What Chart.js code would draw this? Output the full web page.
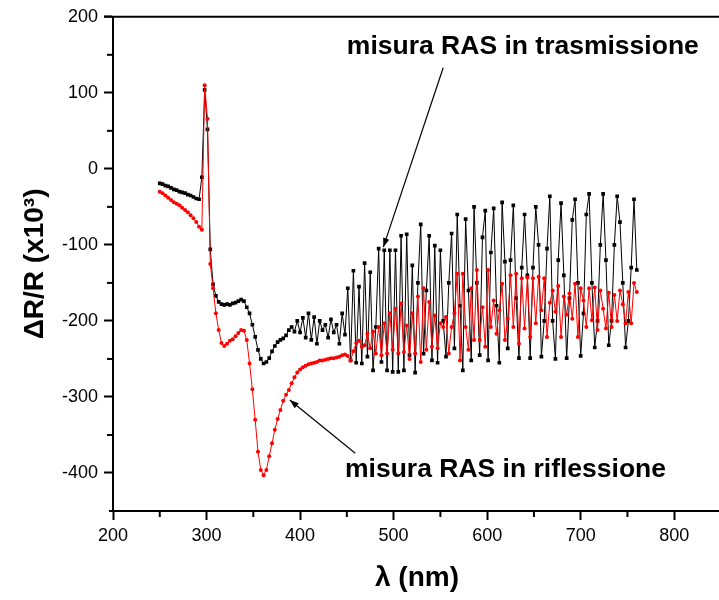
<!DOCTYPE html>
<html>
<head>
<meta charset="utf-8">
<script src="https://cdn.jsdelivr.net/npm/chart.js@4.4.1/dist/chart.umd.min.js"></script>
<style>
  html, body { margin: 0; padding: 0; background: #fff; overflow: hidden; }
  #wrap { position: relative; width: 730px; height: 600px; }
</style>
</head>
<body>
<div id="wrap"><canvas id="c"></canvas></div>
<script>
// Wavelength grid (nm)
const wavelengths = [
  250,253,256,259,262,265,268,271,274,277,
  280,283,286,289,292,295,298,301,304,307,
  310,313,316,319,322,325,328,331,334,337,
  340,343,346,349,352,355,358,361,364,367,
  370,373,376,379,382,385,388,391,394,397,
  400,403,406,409,412,415,418,421,424,427,
  430,433,436,439,442,445,448,451,454,457,
  460,463,466,469,472,475,478,481,484,487,
  490,493,496,499,502,505,508,511,514,517,
  520,523,526,529,532,535,538,541,544,547,
  550,553,556,559,562,565,568,571,574,577,
  580,583,586,589,592,595,598,601,604,607,
  610,613,616,619,622,625,628,631,634,637,
  640,643,646,649,652,655,658,661,664,667,
  670,673,676,679,682,685,688,691,694,697,
  700,703,706,709,712,715,718,721,724,727,
  730,733,736,739,742,745,748,751,754,757,
  760
];

// ΔR/R (x10^3), RAS measured in transmission
const rasTrasmissione = [
  -19,-20,-22,-23,-25,-27,-28,-30,-31,-32,
  -34,-35,-37,-39,-40,-11,104,52,-106,-152,
  -167,-175,-178,-179,-178,-179,-177,-176,-174,-172,
  -174,-182,-190,-205,-221,-238,-250,-256,-254,-249,
  -240,-233,-228,-225,-223,-219,-212,-208,-214,-200,
  -215,-196,-222,-190,-225,-195,-230,-200,-212,-205,
  -222,-198,-215,-205,-230,-190,-218,-157,-252,-134,
  -255,-155,-256,-124,-247,-136,-265,-208,-105,-254,
  -107,-265,-107,-267,-107,-267,-88,-265,-86,-245,
  -127,-268,-150,-73,-243,-160,-88,-252,-101,-255,
  -107,-200,-247,-150,-85,-236,-60,-180,-265,-66,
  -160,-252,-50,-150,-245,-90,-55,-252,-110,-52,
  -180,-255,-44,-122,-236,-120,-48,-170,-249,-130,
  -60,-140,-249,-130,-50,-100,-247,-200,-105,-36,
  -200,-250,-120,-45,-140,-249,-170,-67,-40,-150,
  -246,-190,-60,-33,-150,-235,-200,-100,-33,-120,
  -232,-200,-100,-36,-70,-150,-235,-200,-130,-40,
  -133
];

// ΔR/R (x10^3), RAS measured in reflection
const rasRiflessione = [
  -30,-32,-35,-38,-41,-44,-46,-48,-51,-54,
  -57,-61,-65,-70,-76,-80,110,66,-125,-157,
  -190,-212,-229,-233,-230,-226,-224,-220,-216,-212,
  -213,-225,-256,-290,-330,-372,-396,-403,-396,-378,
  -361,-343,-329,-317,-305,-297,-291,-282,-274,-268,
  -264,-261,-259,-257,-256,-255,-254,-252,-252,-251,
  -250,-249,-249,-248,-247,-245,-244,-246,-252,-240,
  -229,-226,-234,-232,-217,-236,-214,-243,-208,-245,
  -203,-243,-190,-238,-184,-243,-177,-241,-206,-250,
  -190,-243,-168,-254,-157,-238,-175,-234,-193,-236,
  -203,-208,-195,-243,-208,-190,-138,-252,-138,-208,
  -238,-157,-225,-133,-225,-182,-234,-133,-208,-173,
  -217,-186,-151,-225,-197,-140,-208,-138,-230,-144,
  -210,-143,-221,-144,-203,-142,-186,-144,-221,-176,
  -160,-188,-154,-221,-168,-192,-164,-197,-151,-221,
  -157,-173,-208,-157,-199,-156,-212,-160,-184,-210,
  -163,-208,-166,-200,-160,-178,-203,-162,-203,-150,
  -162
];

// Axis ticks
const xTickLabels = [200, 300, 400, 500, 600, 700, 800];
const yTickLabels = [-400, -300, -200, -100, 0, 100, 200];
const xMinorTicks = [250, 350, 450, 550, 650, 750];
const yMinorTicks = [-350, -250, -150, -50, 50, 150];

const FONT = '"Liberation Sans", Arial, Helvetica, sans-serif';

const toPoints = ys => wavelengths.map((x, i) => ({ x, y: ys[i] }));

// Frame, minor ticks and the two labelled arrows
const frameAndNotes = {
  id: 'frameAndNotes',
  afterDraw(chart) {
    const { ctx, chartArea: a, scales: { x, y } } = chart;
    const seg = (x1, y1, x2, y2) => { ctx.beginPath(); ctx.moveTo(x1, y1); ctx.lineTo(x2, y2); ctx.stroke(); };
    ctx.save();
    ctx.strokeStyle = '#000';
    ctx.lineWidth = 2;
    seg(a.left - 9, a.top, chart.width, a.top);
    seg(a.left - 4, a.bottom, a.left, a.bottom);
    xMinorTicks.forEach(v => { const px = x.getPixelForValue(v); seg(px, a.bottom, px, a.bottom + 6); });
    yMinorTicks.forEach(v => { const py = y.getPixelForValue(v); seg(a.left - 6, py, a.left, py); });

    const notes = [
      { text: 'misura RAS in trasmissione', tx: 450, ty: 151, from: [553, 133], to: [489, -103] },
      { text: 'misura RAS in riflessione', tx: 448, ty: -405, from: [459, -374], to: [389, -304] }
    ];
    ctx.fillStyle = '#000';
    ctx.font = 'bold 26.5px ' + FONT;
    ctx.textBaseline = 'alphabetic';
    ctx.textAlign = 'left';
    notes.forEach(n => {
      ctx.fillText(n.text, x.getPixelForValue(n.tx), y.getPixelForValue(n.ty));
      const x1 = x.getPixelForValue(n.from[0]), y1 = y.getPixelForValue(n.from[1]);
      const x2 = x.getPixelForValue(n.to[0]), y2 = y.getPixelForValue(n.to[1]);
      ctx.lineWidth = 1.2;
      seg(x1, y1, x2, y2);
      const ang = Math.atan2(y2 - y1, x2 - x1);
      const L = 9, W = 3.2;
      ctx.beginPath();
      ctx.moveTo(x2, y2);
      ctx.lineTo(x2 - L * Math.cos(ang) + W * Math.sin(ang), y2 - L * Math.sin(ang) - W * Math.cos(ang));
      ctx.lineTo(x2 - L * Math.cos(ang) - W * Math.sin(ang), y2 - L * Math.sin(ang) + W * Math.cos(ang));
      ctx.closePath();
      ctx.fill();
    });
    ctx.restore();
  }
};

new Chart(document.getElementById('c'), {
  type: 'line',
  data: {
    datasets: [
      {
        label: 'misura RAS in riflessione',
        data: toPoints(rasRiflessione),
        borderColor: '#ff0000',
        backgroundColor: '#ff0000',
        borderWidth: 1,
        pointStyle: 'circle',
        pointRadius: 2,
        pointBorderWidth: 0,
        tension: 0,
        order: 0
      },
      {
        label: 'misura RAS in trasmissione',
        data: toPoints(rasTrasmissione),
        borderColor: '#000000',
        backgroundColor: '#000000',
        borderWidth: 1,
        pointStyle: 'rect',
        pointRadius: 2.6,
        pointBorderWidth: 0,
        tension: 0,
        order: 1
      }
    ]
  },
  options: {
    responsive: true,
    maintainAspectRatio: false,
    devicePixelRatio: 1,
    animation: false,
    events: [],
    layout: { padding: { left: 0, top: 16, right: 9, bottom: 0 } },
    plugins: { legend: { display: false }, tooltip: { enabled: false } },
    scales: {
      x: {
        type: 'linear',
        min: 200,
        max: 850,
        afterBuildTicks: s => { s.ticks = xTickLabels.map(v => ({ value: v })); },
        afterFit: s => { s.height = 89; },
        ticks: { color: '#000', font: { family: FONT, size: 18 }, padding: 5, maxRotation: 0, autoSkip: false },
        grid: { drawOnChartArea: false, drawTicks: true, tickLength: 9, tickWidth: 2, tickColor: '#000' },
        border: { display: true, color: '#000', width: 2 },
        title: { display: true, text: 'λ (nm)', color: '#000', font: { family: FONT, size: 28, weight: 'bold' }, padding: { top: 0, bottom: 5 } }
      },
      y: {
        type: 'linear',
        min: -450,
        max: 200,
        afterBuildTicks: s => { s.ticks = yTickLabels.map(v => ({ value: v })); },
        afterFit: s => { s.width = 113; },
        ticks: { color: '#000', font: { family: FONT, size: 18 }, padding: 6, autoSkip: false },
        grid: { drawOnChartArea: false, drawTicks: true, tickLength: 9, tickWidth: 2, tickColor: '#000' },
        border: { display: true, color: '#000', width: 2 },
        title: { display: true, text: 'ΔR/R (x10³)', color: '#000', font: { family: FONT, size: 28, weight: 'bold' }, padding: { top: 18, bottom: 0 } }
      }
    }
  },
  plugins: [frameAndNotes]
});
</script>
</body>
</html>
